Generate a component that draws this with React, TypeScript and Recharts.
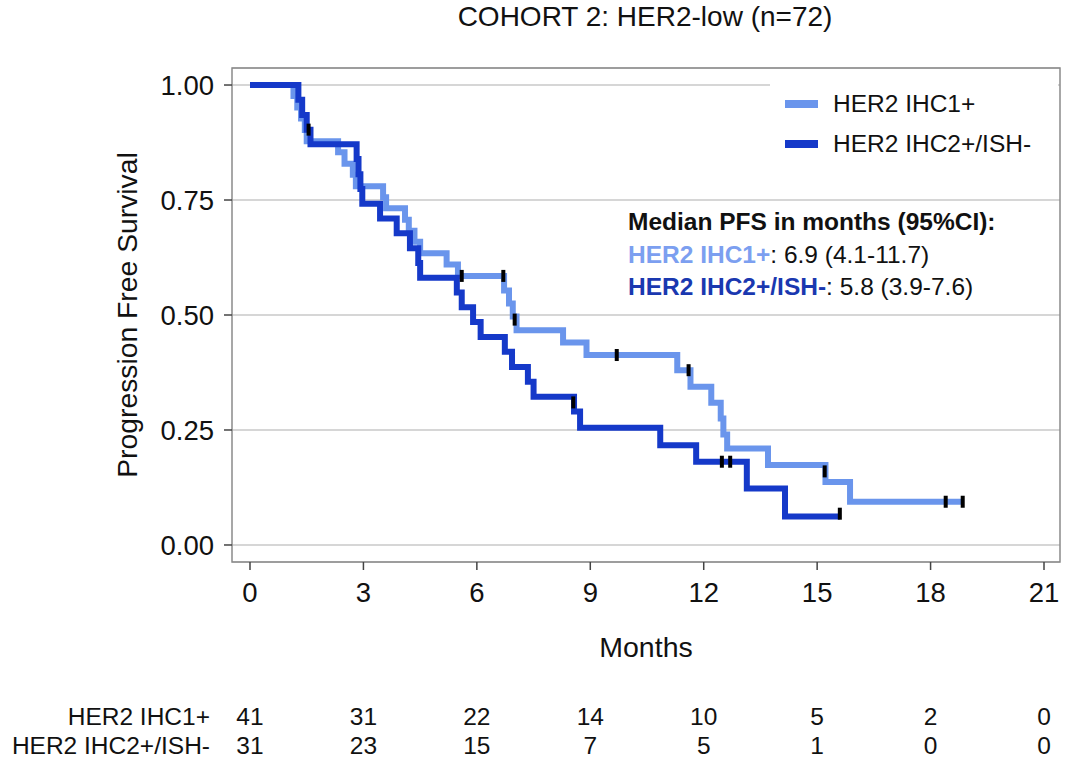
import React from 'react';
import { ComposedChart, Line, Scatter, XAxis, YAxis, CartesianGrid, ReferenceArea } from 'recharts';

// Kaplan-Meier steps: [months, survival]
const ihc1Steps: [number, number][] = [
  [0, 1.0], [1.15, 0.976], [1.25, 0.951], [1.35, 0.927], [1.45, 0.902], [1.5, 0.878],
  [2.33, 0.854], [2.5, 0.829], [2.72, 0.805], [2.8, 0.78], [3.52, 0.756], [3.6, 0.732],
  [4.1, 0.707], [4.2, 0.683], [4.35, 0.659], [4.5, 0.634], [5.2, 0.61], [5.5, 0.585],
  [6.72, 0.553], [6.85, 0.525], [6.95, 0.497], [7.05, 0.467], [8.28, 0.44], [8.9, 0.413],
  [11.3, 0.38], [11.65, 0.344], [12.2, 0.309], [12.45, 0.275], [12.52, 0.24], [12.62, 0.21],
  [13.7, 0.174], [15.22, 0.137], [15.87, 0.094], [18.85, 0.094],
];
const ihc2Steps: [number, number][] = [
  [0, 1.0], [1.28, 0.968], [1.38, 0.935], [1.5, 0.903], [1.6, 0.871], [2.82, 0.839],
  [2.87, 0.806], [2.92, 0.774], [2.97, 0.742], [3.44, 0.71], [3.88, 0.678], [4.23, 0.645],
  [4.45, 0.613], [4.5, 0.581], [5.47, 0.549], [5.6, 0.517], [5.9, 0.485], [6.1, 0.452],
  [6.74, 0.42], [6.93, 0.387], [7.35, 0.355], [7.5, 0.322], [8.57, 0.29], [8.73, 0.255],
  [10.85, 0.217], [11.8, 0.181], [13.14, 0.123], [14.15, 0.062], [15.6, 0.062],
];

// censored observations
const ihc1Censor: [number, number][] = [
  [5.6, 0.585], [6.7, 0.585], [7.0, 0.49], [9.7, 0.413], [11.6, 0.38], [15.2, 0.16], [18.4, 0.094], [18.85, 0.094],
];
const ihc2Censor: [number, number][] = [
  [1.55, 0.903], [8.55, 0.31], [12.48, 0.181], [12.7, 0.181], [15.6, 0.068],
];

const xTicks = [0, 3, 6, 9, 12, 15, 18, 21];
const yTicks = [0, 0.25, 0.5, 0.75, 1.0];
const groups = ['HER2 IHC1+', 'HER2 IHC2+/ISH-'];
const atRisk1 = [41, 31, 22, 14, 10, 5, 2, 0];
const atRisk2 = [31, 23, 15, 7, 5, 1, 0, 0];

const LIGHT = '#6a95ec';
const DARK = '#1539c9';
const colors = [LIGHT, DARK];
const FONT = '"Liberation Sans", Arial, sans-serif';

const XMIN = -0.476;
const XMAX = 21.423;
const YMIN = -0.037;
const YMAX = 1.037;

const toRows = (arr: [number, number][]) => arr.map(([t, s]) => ({ t, s }));

const CensorMark = (props: any) => {
  const { cx, cy } = props;
  if (cx == null || cy == null) return null;
  return <rect x={cx - 2} y={cy - 6} width={4} height={12} fill="#000" />;
};

const XTick = (props: any) => {
  const { x, y, payload } = props;
  const i = xTicks.indexOf(payload.value);
  return (
    <g>
      <text x={x} y={y + 32} textAnchor="middle" fontSize={27.5} fill="#111" fontFamily={FONT}>{payload.value}</text>
      <text x={x} y={y + 155} textAnchor="middle" fontSize={24.5} fill="#111" fontFamily={FONT}>{atRisk1[i]}</text>
      <text x={x} y={y + 184} textAnchor="middle" fontSize={24.5} fill="#111" fontFamily={FONT}>{atRisk2[i]}</text>
      {i === 0 && (
        <>
          <text x={x - 40} y={y + 155} textAnchor="end" fontSize={24.5} fill="#111" fontFamily={FONT}>{groups[0]}</text>
          <text x={x - 40} y={y + 184} textAnchor="end" fontSize={24.5} fill="#111" fontFamily={FONT}>{groups[1]}</text>
        </>
      )}
    </g>
  );
};

export default function App() {
  return (
    <div style={{ position: 'relative', width: 1080, height: 760, background: '#fff', fontFamily: FONT }}>
      <style>{'body{margin:0}'}</style>
      <div style={{ position: 'absolute', left: 0, width: 1290, top: 1, textAlign: 'center', fontSize: 28, color: '#111' }}>
        COHORT 2: HER2-low (n=72)
      </div>
      <ComposedChart width={1080} height={760} margin={{ top: 68, right: 20, bottom: 0, left: 82 }}>
        <CartesianGrid horizontal vertical={false} stroke="#d6d6d6" strokeWidth={2} />
        <XAxis
          type="number"
          dataKey="t"
          domain={[XMIN, XMAX]}
          allowDataOverflow
          ticks={xTicks}
          interval={0}
          height={198}
          tickSize={8}
          tickMargin={0}
          axisLine={false}
          tickLine={{ stroke: '#444', strokeWidth: 1.5 }}
          tick={<XTick />}
          label={{ value: 'Months', position: 'insideTop', offset: 75, fontSize: 28.5, fill: '#111', fontFamily: FONT }}
        />
        <YAxis
          type="number"
          domain={[YMIN, YMAX]}
          allowDataOverflow
          ticks={yTicks}
          interval={0}
          width={150}
          tickSize={8}
          tickMargin={10}
          axisLine={false}
          tickLine={{ stroke: '#444', strokeWidth: 1.5 }}
          tickFormatter={(v: number) => v.toFixed(2)}
          tick={{ fontSize: 27.5, fill: '#111', fontFamily: FONT }}
          label={{ value: 'Progression Free Survival', angle: -90, position: 'insideLeft', offset: 45, fontSize: 28.3, fill: '#111', fontFamily: FONT, style: { textAnchor: 'middle' } }}
        />
        <ReferenceArea x1={XMIN} x2={XMAX} y1={YMIN} y2={YMAX} fill="none" stroke="#8a8a8a" strokeWidth={1.5} />
        <Line data={toRows(ihc1Steps)} dataKey="s" type="stepAfter" name={groups[0]} stroke={LIGHT} strokeWidth={6} dot={false} isAnimationActive={false} />
        <Line data={toRows(ihc2Steps)} dataKey="s" type="stepAfter" name={groups[1]} stroke={DARK} strokeWidth={6} dot={false} isAnimationActive={false} />
        <Scatter data={toRows(ihc1Censor)} dataKey="s" legendType="none" shape={<CensorMark />} isAnimationActive={false} />
        <Scatter data={toRows(ihc2Censor)} dataKey="s" legendType="none" shape={<CensorMark />} isAnimationActive={false} />
      </ComposedChart>
      <div style={{ position: 'absolute', left: 770, top: 70, width: 288, height: 92, background: '#fff', paddingTop: 14, boxSizing: 'border-box' }}>
        {groups.map((g, i) => (
          <div key={g} style={{ display: 'flex', alignItems: 'center', height: 40, marginLeft: 15 }}>
            <span style={{ display: 'inline-block', width: 33, height: 8, background: colors[i], marginRight: 15 }} />
            <span style={{ fontSize: 24.5, color: '#111' }}>{g}</span>
          </div>
        ))}
      </div>
      <div style={{ position: 'absolute', left: 628, top: 206, fontSize: 24.5, lineHeight: '32.5px', color: '#111' }}>
        <div style={{ fontWeight: 'bold' }}>Median PFS in months (95%CI):</div>
        <div><b style={{ color: '#7c9ff0' }}>HER2 IHC1+</b>: 6.9 (4.1-11.7)</div>
        <div><b style={{ color: '#1a38b0' }}>HER2 IHC2+/ISH-</b>: 5.8 (3.9-7.6)</div>
      </div>
    </div>
  );
}
